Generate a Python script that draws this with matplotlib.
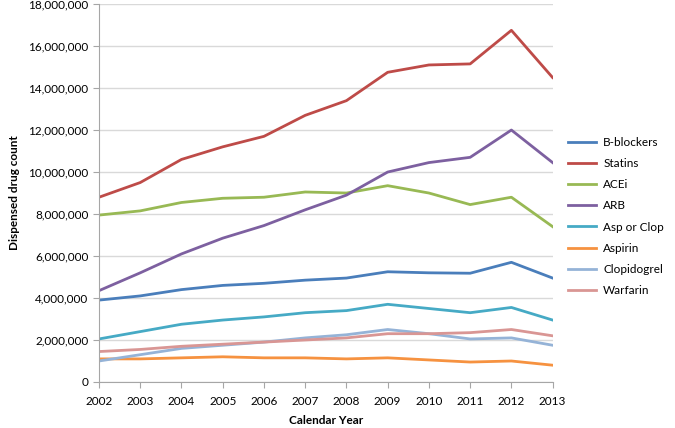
import matplotlib
matplotlib.use('Agg')
import matplotlib.pyplot as plt
from matplotlib.ticker import FuncFormatter

plt.rcParams['font.family'] = ['Lato', 'DejaVu Sans']

years = list(range(2002, 2014))

b_blockers = [3.9, 4.1, 4.4, 4.6, 4.7, 4.85, 4.95, 5.25, 5.2, 5.18, 5.7, 4.95]
statins = [8.8, 9.5, 10.6, 11.2, 11.7, 12.7, 13.4, 14.75, 15.1, 15.15, 16.75, 14.5]
acei = [7.95, 8.15, 8.55, 8.75, 8.8, 9.05, 9.0, 9.35, 9.0, 8.45, 8.8, 7.4]
arb = [4.35, 5.2, 6.1, 6.85, 7.45, 8.2, 8.9, 10.0, 10.45, 10.7, 12.0, 10.45]
asp_or_clop = [2.05, 2.4, 2.75, 2.95, 3.1, 3.3, 3.4, 3.7, 3.5, 3.3, 3.55, 2.95]
aspirin = [1.1, 1.1, 1.15, 1.2, 1.15, 1.15, 1.1, 1.15, 1.05, 0.95, 1.0, 0.8]
clopidogrel = [1.0, 1.3, 1.6, 1.75, 1.9, 2.1, 2.25, 2.5, 2.3, 2.05, 2.1, 1.75]
warfarin = [1.45, 1.55, 1.7, 1.8, 1.9, 2.0, 2.1, 2.3, 2.3, 2.35, 2.5, 2.2]

series = [
    ('B-blockers', b_blockers, '#4A7EBB'),
    ('Statins', statins, '#BE4B48'),
    ('ACEi', acei, '#98B954'),
    ('ARB', arb, '#7D60A0'),
    ('Asp or Clop', asp_or_clop, '#46AAC5'),
    ('Aspirin', aspirin, '#F69240'),
    ('Clopidogrel', clopidogrel, '#95B3D7'),
    ('Warfarin', warfarin, '#D99694'),
]

fig = plt.figure(figsize=(6.75, 4.28), dpi=100)
ax = fig.add_axes([0.1467, 0.1075, 0.672, 0.883])

for name, vals, color in series:
    ax.plot(years, [v * 1e6 for v in vals], color=color, lw=2.0, label=name)

ax.set_xlim(2002, 2013)
ax.set_ylim(0, 18e6)
ax.set_xticks(years)
ax.set_yticks(range(0, 18000001, 2000000))
ax.yaxis.set_major_formatter(FuncFormatter(lambda v, p: f'{int(v):,}'))
ax.grid(axis='y', color='#D9D9D9', lw=1)
ax.set_axisbelow(True)
for s in ['top', 'right']:
    ax.spines[s].set_visible(False)
for s in ['left', 'bottom']:
    ax.spines[s].set_color('#A6A6A6')
ax.tick_params(colors='#A6A6A6', labelcolor='black', labelsize=8.5, length=4)
ax.tick_params(axis='x', pad=6)

# x label placed by hand so it sits near the bottom edge
fig.text(0.483, 0.004, 'Calendar Year', fontweight='bold', fontsize=8.5,
         ha='center', va='bottom')
ax.set_ylabel('Dispensed drug count', fontweight='bold', fontsize=8.5, labelpad=6)

ax.legend(loc='center left', bbox_to_anchor=(1.01, 0.438), frameon=False,
          fontsize=8.5, handlelength=2.4, handletextpad=0.6, labelspacing=0.86)

fig.savefig('out.png', dpi=100)
